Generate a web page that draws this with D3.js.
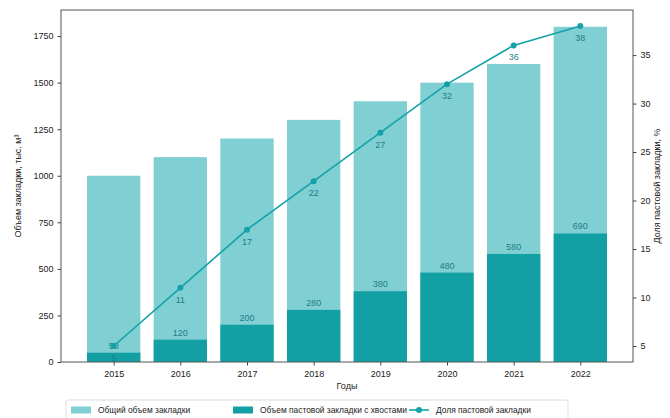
<!DOCTYPE html>
<html>
<head>
<meta charset="utf-8">
<script src="https://cdn.jsdelivr.net/npm/d3@7"></script>
<style>
  html, body { margin: 0; padding: 0; background: #fff; }
  svg { display: block; font-family: "Liberation Sans", Arial, sans-serif; }
</style>
</head>
<body>
<svg id="chart" width="670" height="418"></svg>
<script>
// Backfill volumes by year
const years = ["2015", "2016", "2017", "2018", "2019", "2020", "2021", "2022"];
const totalVolume = [1000, 1100, 1200, 1300, 1400, 1500, 1600, 1800];
const pasteVolume = [50, 120, 200, 280, 380, 480, 580, 690];
const pasteShare = [5, 11, 17, 22, 27, 32, 36, 38];
const leftTicks = [0, 250, 500, 750, 1000, 1250, 1500, 1750];
const rightTicks = [5, 10, 15, 20, 25, 30, 35];

const colLight = "#80cfd3";
const colDark = "#12a0a4";
const colLine = "#14a2a8";
const colText = "#222";
const fontFam = "Liberation Sans, Arial, sans-serif";
const fs = 9;
const fsLegend = 8.4;

const svg = d3.select("#chart");
const m = { left: 61, right: 633, top: 10, bottom: 362 };

// Index-based x scale with padding like a categorical bar chart
const x = d3.scaleLinear().domain([-0.79, years.length - 1 + 0.79]).range([m.left, m.right]);
const barW = x(0.8) - x(0);
const yL = d3.scaleLinear().domain([0, 1890]).range([m.bottom, m.top]);
const yR = d3.scaleLinear().domain([3.35, 39.65]).range([m.bottom, m.top]);

const g = svg.append("g");

// Total volume bars
g.selectAll("rect.total").data(totalVolume).join("rect")
  .attr("class", "total")
  .attr("x", (d, i) => x(i) - barW / 2)
  .attr("width", barW)
  .attr("y", d => yL(d))
  .attr("height", d => yL(0) - yL(d))
  .attr("fill", colLight);

// Paste backfill bars
g.selectAll("rect.paste").data(pasteVolume).join("rect")
  .attr("class", "paste")
  .attr("x", (d, i) => x(i) - barW / 2)
  .attr("width", barW)
  .attr("y", d => yL(d))
  .attr("height", d => yL(0) - yL(d))
  .attr("fill", colDark);

// Paste volume labels
g.selectAll("text.pv").data(pasteVolume).join("text")
  .attr("class", "pv")
  .attr("x", (d, i) => x(i))
  .attr("y", d => yL(d) - 4)
  .attr("text-anchor", "middle")
  .attr("font-size", fs)
  .attr("fill", "#1c7f86")
  .text(d => d);

// Share line
const line = d3.line().x((d, i) => x(i)).y(d => yR(d));
g.append("path").datum(pasteShare)
  .attr("d", line)
  .attr("fill", "none")
  .attr("stroke", colLine)
  .attr("stroke-width", 1.6);
g.selectAll("circle.pt").data(pasteShare).join("circle")
  .attr("class", "pt")
  .attr("cx", (d, i) => x(i))
  .attr("cy", d => yR(d))
  .attr("r", 3)
  .attr("fill", colLine);
g.selectAll("text.ps").data(pasteShare).join("text")
  .attr("class", "ps")
  .attr("x", (d, i) => x(i))
  .attr("y", d => yR(d) + 15)
  .attr("text-anchor", "middle")
  .attr("font-size", fs)
  .attr("fill", "#1c7f86")
  .text(d => d);

// Frame
svg.append("rect")
  .attr("x", m.left).attr("y", m.top)
  .attr("width", m.right - m.left).attr("height", m.bottom - m.top)
  .attr("fill", "none").attr("stroke", "#555").attr("stroke-width", 1);

// Axes
const axL = svg.append("g").attr("transform", `translate(${m.left},0)`)
  .call(d3.axisLeft(yL).tickValues(leftTicks).tickFormat(d3.format("d")).tickSize(3.5).tickPadding(4));
const axR = svg.append("g").attr("transform", `translate(${m.right},0)`)
  .call(d3.axisRight(yR).tickValues(rightTicks).tickFormat(d3.format("d")).tickSize(3.5).tickPadding(4));
const axB = svg.append("g").attr("transform", `translate(0,${m.bottom})`)
  .call(d3.axisBottom(x).tickValues(d3.range(years.length)).tickFormat(i => years[i]).tickSize(3.5).tickPadding(5));
[axL, axR, axB].forEach(a => {
  a.select(".domain").remove();
  a.selectAll("line").attr("stroke", "#444");
  a.selectAll("text").attr("font-size", fs).attr("fill", colText).attr("font-family", fontFam);
});

// Axis titles
svg.append("text")
  .attr("transform", `translate(21,${(m.top + m.bottom) / 2}) rotate(-90)`)
  .attr("text-anchor", "middle").attr("font-size", fs).attr("fill", colText)
  .text("Объем закладки, тыс. м³");
svg.append("text")
  .attr("transform", `translate(660,${(m.top + m.bottom) / 2}) rotate(-90)`)
  .attr("text-anchor", "middle").attr("font-size", fs).attr("fill", colText)
  .text("Доля пастовой закладки, %");
svg.append("text")
  .attr("x", (m.left + m.right) / 2).attr("y", 389)
  .attr("text-anchor", "middle").attr("font-size", fs).attr("fill", colText)
  .text("Годы");

// Legend
const lg = svg.append("g");
lg.append("rect").attr("x", 66).attr("y", 400).attr("width", 502).attr("height", 22)
  .attr("fill", "#fff").attr("stroke", "#ddd").attr("rx", 2);
const items = [
  { label: "Общий объем закладки", type: "bar", color: colLight, x: 71 },
  { label: "Объем пастовой закладки с хвостами", type: "bar", color: colDark, x: 233 },
  { label: "Доля пастовой закладки", type: "line", color: colLine, x: 409 }
];
items.forEach(it => {
  const ly = 410;
  if (it.type === "bar") {
    lg.append("rect").attr("x", it.x).attr("y", ly - 3.5).attr("width", 20).attr("height", 7).attr("fill", it.color);
  } else {
    lg.append("line").attr("x1", it.x).attr("x2", it.x + 20).attr("y1", ly).attr("y2", ly)
      .attr("stroke", it.color).attr("stroke-width", 1.6);
    lg.append("circle").attr("cx", it.x + 10).attr("cy", ly).attr("r", 3).attr("fill", it.color);
  }
  lg.append("text").attr("x", it.x + 27).attr("y", ly + 3)
    .attr("font-size", fsLegend).attr("fill", colText).text(it.label);
});
</script>
</body>
</html>
